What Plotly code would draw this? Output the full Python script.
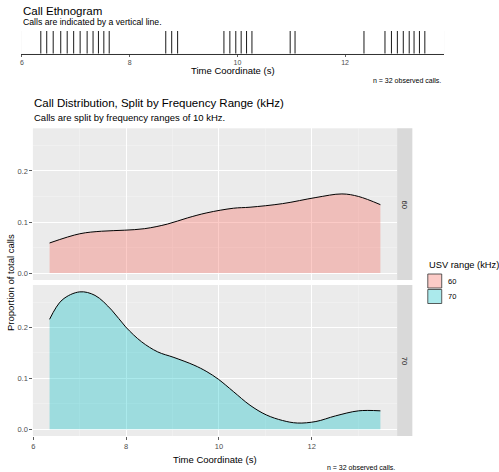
import plotly.graph_objects as go

# ---------------- data ----------------
call_times = [6.35, 6.46, 6.58, 6.72, 6.84, 6.96, 7.08, 7.21, 7.32, 7.42, 7.52, 7.62,
              8.67, 8.78, 8.89,
              9.75, 9.86, 9.97, 10.07, 10.17, 10.27,
              10.98, 11.07,
              12.35,
              12.74, 12.86, 12.97, 13.08, 13.19, 13.28, 13.38, 13.48]

x60 = [6.35, 7.0, 7.47, 7.97, 8.40, 8.89, 9.32, 9.74, 10.31, 10.67, 11.37, 12.09, 12.65, 13.01, 13.48]
y60 = [0.059, 0.077, 0.082, 0.084, 0.087, 0.096, 0.108, 0.118, 0.127, 0.129, 0.136, 0.148, 0.155, 0.150, 0.134]

x70 = [6.35, 6.62, 7.0, 7.33, 7.69, 7.99, 8.33, 8.68, 9.03, 9.46, 9.74, 9.99, 10.31, 10.67,
       11.02, 11.37, 11.69, 12.09, 12.51, 13.01, 13.48]
y70 = [0.216, 0.254, 0.270, 0.263, 0.234, 0.201, 0.172, 0.152, 0.141, 0.126, 0.113, 0.098, 0.074, 0.047,
       0.028, 0.017, 0.012, 0.015, 0.026, 0.036, 0.036]

ranges = ["60", "70"]
x_ticks = [6, 8, 10, 12]
y_ticks = [0.0, 0.1, 0.2]
y_tick_labels = ["0.0", "0.1", "0.2"]

# ---------------- layout helpers ----------------
W, H = 499, 472
FONT = "Liberation Sans, Arial, Helvetica, sans-serif"
FILL = {"60": "rgba(248,118,109,0.38)", "70": "rgba(0,191,196,0.33)"}


def px(x):
    return x / W


def py(y):
    return 1 - y / H


fig = go.Figure()

# ---- ethogram ----
lx, ly = [], []
for t in call_times:
    lx += [t, t, None]
    ly += [0, 1, None]
fig.add_trace(go.Scatter(x=lx, y=ly, mode="lines", line=dict(color="#1a1a1a", width=1),
                         xaxis="x", yaxis="y", showlegend=False, hoverinfo="skip"))

# ---- density panels ----
for name, xs, ys, xa, ya in [("60", x60, y60, "x2", "y2"), ("70", x70, y70, "x3", "y3")]:
    fig.add_trace(go.Scatter(x=xs, y=ys, mode="lines", fill="tozeroy", fillcolor=FILL[name],
                             line=dict(width=0, shape="spline", smoothing=1.0),
                             xaxis=xa, yaxis=ya, showlegend=False, hoverinfo="skip"))
    fig.add_trace(go.Scatter(x=xs, y=ys, mode="lines",
                             line=dict(color="black", width=1, shape="spline", smoothing=1.0),
                             xaxis=xa, yaxis=ya, showlegend=False, hoverinfo="skip"))

XR = [5.99, 13.84]
YR = [-0.0135, 0.2835]
tickfont = dict(family=FONT, size=7.5, color="#4D4D4D")

panel_x = [px(31), px(396.7)]
common_x = dict(range=XR, tickvals=x_ticks, showgrid=True, gridcolor="white", gridwidth=1,
                minor=dict(tickvals=[7, 9, 11, 13], showgrid=True, gridcolor="#F5F5F5", gridwidth=0.5),
                zeroline=False, showline=False, ticklen=2.5, tickcolor="#333333",
                tickwidth=0.8, tickfont=tickfont, fixedrange=True)
common_y = dict(range=YR, tickvals=y_ticks, ticktext=y_tick_labels, showgrid=True, gridcolor="white",
                gridwidth=1,
                minor=dict(tickvals=[0.05, 0.15, 0.25], showgrid=True, gridcolor="#F5F5F5", gridwidth=0.5),
                zeroline=False, showline=False, ticks="outside", ticklen=2.5, tickcolor="#333333",
                tickwidth=0.8, tickfont=tickfont, fixedrange=True)

fig.update_layout(
    width=W, height=H, margin=dict(l=0, r=0, t=0, b=0),
    paper_bgcolor="white", plot_bgcolor="#EBEBEB",
    font=dict(family=FONT, color="black"),
    hovermode=False,
    xaxis=dict(domain=[px(19.5), px(444)], anchor="y", range=XR, tickvals=x_ticks,
               showgrid=False, zeroline=False, showline=True, linecolor="#333333", linewidth=1,
               ticks="outside", ticklen=2, tickcolor="#333333", tickwidth=0.8,
               tickfont=dict(family=FONT, size=7, color="#4D4D4D"), fixedrange=True),
    yaxis=dict(domain=[py(53.7), py(31)], anchor="x", range=[0, 1], visible=False, showgrid=False,
               fixedrange=True),
    xaxis2=dict(domain=panel_x, anchor="y2", showticklabels=False, ticks="", **common_x),
    yaxis2=dict(domain=[py(280), py(128.3)], anchor="x2", **common_y),
    xaxis3=dict(domain=panel_x, anchor="y3", ticks="outside", **common_x),
    yaxis3=dict(domain=[py(436), py(285)], anchor="x3", **common_y),
)

# Ethogram subplot should have white background: cover with shape below traces
fig.add_shape(type="rect", xref="paper", yref="paper", x0=px(19.5), x1=px(444), y0=py(53.7), y1=py(28),
              fillcolor="white", line=dict(width=0), layer="below")

# ---- strips ----
for name, y0, y1 in [("60", 280, 128.3), ("70", 436, 285)]:
    fig.add_shape(type="rect", xref="paper", yref="paper", x0=px(396.7), x1=px(412), y0=py(y0), y1=py(y1),
                  fillcolor="#D9D9D9", line=dict(width=0), layer="below")
    fig.add_annotation(xref="paper", yref="paper", x=px(404.3), y=py((y0 + y1) / 2), text=name,
                       showarrow=False, textangle=90, font=dict(family=FONT, size=7.5, color="#1A1A1A"),
                       xanchor="center", yanchor="middle")

# ---- legend (manual) ----
fig.add_annotation(xref="paper", yref="paper", x=px(426.5), y=py(265), text="USV range (kHz)",
                   showarrow=False, xanchor="left", yanchor="middle", font=dict(family=FONT, size=9.3))
for i, name in enumerate(ranges):
    top = 274 + i * 15.5
    fig.add_shape(type="rect", xref="paper", yref="paper", x0=px(427.5), x1=px(441.5), y0=py(top + 14),
                  y1=py(top), fillcolor=FILL[name], line=dict(color="#333333", width=0.8))
    fig.add_annotation(xref="paper", yref="paper", x=px(445.5), y=py(top + 7), text=name, showarrow=False,
                       xanchor="left", yanchor="middle", font=dict(family=FONT, size=7.5, color="black"))


# ---- titles and texts ----
def txt(x, y, s, size, anchor="left", color="black", angle=0):
    fig.add_annotation(xref="paper", yref="paper", x=px(x), y=py(y), text=s, showarrow=False,
                       xanchor=anchor, yanchor="middle", textangle=angle,
                       font=dict(family=FONT, size=size, color=color))


txt(19.5, 11.5, "Call Ethnogram", 11.5)
txt(19.5, 22, "Calls are indicated by a vertical line.", 8.7)
txt(231.75, 71, "Time Coordinate (s)", 9.5, anchor="center")
txt(442.5, 80.5, "n = 32 observed calls.", 7, anchor="right")

txt(30.5, 103, "Call Distribution, Split by Frequency Range (kHz)", 11.5)
txt(30.5, 117.5, "Calls are split by frequency ranges of 10 kHz.", 9.5)
txt(8, 282, "Proportion of total calls", 9.5, anchor="center", angle=-90)
txt(214, 459, "Time Coordinate (s)", 9.5, anchor="center")
txt(396.5, 467.5, "n = 32 observed calls.", 7, anchor="right")

# remove the default 8px body margin so the figure sits at the window's top-left corner
fig.write_html("out.html", config={"displayModeBar": False, "staticPlot": True},
               post_script="document.body.style.margin='0px';document.body.style.overflow='hidden';")
